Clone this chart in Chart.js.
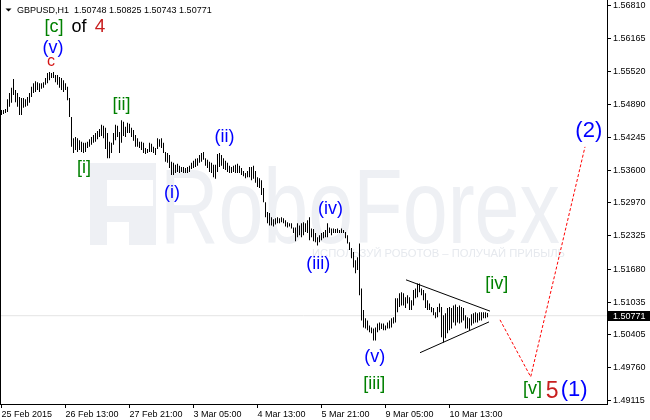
<!DOCTYPE html>
<html>
<head>
<meta charset="utf-8">
<script src="https://cdn.jsdelivr.net/npm/chart.js@4.4.1/dist/chart.umd.min.js"></script>
<style>
  html, body { margin: 0; padding: 0; background: #fff; }
</style>
</head>
<body>
<canvas id="myChart" width="650" height="420"></canvas>
<script>
const symbol = 'GBPUSD,H1';
const timeLabels = ['25 Feb 2015', '26 Feb 13:00', '27 Feb 21:00', '3 Mar 05:00', '4 Mar 13:00', '5 Mar 21:00', '9 Mar 05:00', '10 Mar 13:00'];
const timeTickBars = [0, 32, 64, 96, 128, 160, 192, 224];
const priceTicks = [1.49115, 1.49760, 1.50405, 1.51035, 1.51680, 1.52325, 1.52970, 1.53600, 1.54245, 1.54890, 1.55520, 1.56165, 1.56810];

// H1 bars, high / low
const barHigh = [
  1.5478, 1.5478, 1.5480, 1.5499, 1.5511, 1.5521, 1.5538, 1.5517, 1.5511, 1.5503,
  1.5501, 1.5501, 1.5499, 1.5503, 1.5511, 1.5523, 1.5530, 1.5534, 1.5532, 1.5530,
  1.5530, 1.5532, 1.5540, 1.5550, 1.5552, 1.5550, 1.5552, 1.5546, 1.5546, 1.5542,
  1.5540, 1.5536, 1.5530, 1.5523, 1.5501, 1.5464, 1.5423, 1.5425, 1.5423, 1.5419,
  1.5416, 1.5414, 1.5414, 1.5416, 1.5421, 1.5425, 1.5429, 1.5433, 1.5437, 1.5441,
  1.5449, 1.5447, 1.5443, 1.5433, 1.5416, 1.5414, 1.5433, 1.5449, 1.5447, 1.5435,
  1.5458, 1.5455, 1.5445, 1.5453, 1.5451, 1.5443, 1.5439, 1.5429, 1.5423, 1.5416,
  1.5416, 1.5414, 1.5404, 1.5402, 1.5414, 1.5412, 1.5406, 1.5404, 1.5423, 1.5421,
  1.5423, 1.5414, 1.5396, 1.5394, 1.5390, 1.5377, 1.5375, 1.5371, 1.5373, 1.5369,
  1.5367, 1.5367, 1.5365, 1.5367, 1.5369, 1.5375, 1.5379, 1.5383, 1.5384, 1.5390,
  1.5394, 1.5396, 1.5384, 1.5381, 1.5377, 1.5375, 1.5371, 1.5371, 1.5392, 1.5394,
  1.5390, 1.5384, 1.5379, 1.5375, 1.5369, 1.5367, 1.5369, 1.5371, 1.5373, 1.5369,
  1.5365, 1.5359, 1.5355, 1.5359, 1.5367, 1.5367, 1.5369, 1.5359, 1.5347, 1.5345,
  1.5341, 1.5326, 1.5298, 1.5279, 1.5277, 1.5269, 1.5265, 1.5267, 1.5269, 1.5267,
  1.5269, 1.5267, 1.5263, 1.5259, 1.5257, 1.5257, 1.5249, 1.5249, 1.5257, 1.5253,
  1.5257, 1.5259, 1.5257, 1.5263, 1.5269, 1.5247, 1.5246, 1.5238, 1.5230, 1.5234,
  1.5238, 1.5240, 1.5244, 1.5257, 1.5249, 1.5247, 1.5247, 1.5246, 1.5247, 1.5244,
  1.5247, 1.5244, 1.5240, 1.5234, 1.5220, 1.5209, 1.5201, 1.5185, 1.5191, 1.5218,
  1.5130, 1.5088, 1.5072, 1.5068, 1.5058, 1.5054, 1.5052, 1.5054, 1.5062, 1.5064,
  1.5062, 1.5062, 1.5058, 1.5064, 1.5068, 1.5072, 1.5074, 1.5111, 1.5111, 1.5121,
  1.5123, 1.5121, 1.5113, 1.5117, 1.5113, 1.5107, 1.5127, 1.5130, 1.5140, 1.5140,
  1.5130, 1.5127, 1.5121, 1.5107, 1.5101, 1.5094, 1.5092, 1.5084, 1.5094, 1.5101,
  1.5094, 1.5078, 1.5082, 1.5092, 1.5094, 1.5092, 1.5097, 1.5099, 1.5094, 1.5097,
  1.5094, 1.5092, 1.5078, 1.5074, 1.5072, 1.5080, 1.5082, 1.5084, 1.5082, 1.5084,
  1.5084, 1.5084, 1.5084, 1.50825
];
const barLow = [
  1.5468, 1.5470, 1.5472, 1.5474, 1.5484, 1.5492, 1.5507, 1.5493, 1.5484, 1.5468,
  1.5468, 1.5482, 1.5484, 1.5486, 1.5492, 1.5503, 1.5511, 1.5513, 1.5517, 1.5513,
  1.5519, 1.5521, 1.5527, 1.5530, 1.5536, 1.5540, 1.5540, 1.5532, 1.5527, 1.5521,
  1.5517, 1.5513, 1.5517, 1.5497, 1.5464, 1.5406, 1.5394, 1.5400, 1.5396, 1.5400,
  1.5396, 1.5394, 1.5396, 1.5404, 1.5406, 1.5410, 1.5414, 1.5416, 1.5421, 1.5425,
  1.5427, 1.5423, 1.5402, 1.5384, 1.5384, 1.5394, 1.5410, 1.5419, 1.5425, 1.5394,
  1.5414, 1.5427, 1.5425, 1.5433, 1.5433, 1.5425, 1.5418, 1.5406, 1.5406, 1.5404,
  1.5400, 1.5394, 1.5392, 1.5394, 1.5396, 1.5396, 1.5394, 1.5390, 1.5402, 1.5406,
  1.5404, 1.5394, 1.5377, 1.5375, 1.5365, 1.5351, 1.5351, 1.5355, 1.5357, 1.5355,
  1.5357, 1.5355, 1.5355, 1.5355, 1.5357, 1.5363, 1.5365, 1.5367, 1.5369, 1.5375,
  1.5377, 1.5381, 1.5369, 1.5365, 1.5357, 1.5355, 1.5347, 1.5344, 1.5357, 1.5367,
  1.5369, 1.5363, 1.5361, 1.5357, 1.5355, 1.5355, 1.5357, 1.5355, 1.5355, 1.5355,
  1.5351, 1.5349, 1.5345, 1.5347, 1.5347, 1.5341, 1.5344, 1.5336, 1.5328, 1.5326,
  1.5312, 1.5298, 1.5269, 1.5257, 1.5253, 1.5253, 1.5251, 1.5255, 1.5257, 1.5257,
  1.5259, 1.5257, 1.5251, 1.5249, 1.5251, 1.5247, 1.5238, 1.5222, 1.5230, 1.5234,
  1.5230, 1.5234, 1.5240, 1.5238, 1.5224, 1.5230, 1.5222, 1.5220, 1.5214, 1.5220,
  1.5224, 1.5228, 1.5230, 1.5230, 1.5238, 1.5234, 1.5238, 1.5238, 1.5238, 1.5238,
  1.5238, 1.5238, 1.5228, 1.5218, 1.5205, 1.5189, 1.5171, 1.5160, 1.5166, 1.5117,
  1.5068, 1.5054, 1.5052, 1.5049, 1.5045, 1.5043, 1.5029, 1.5029, 1.5045, 1.5049,
  1.5051, 1.5049, 1.5049, 1.5052, 1.5052, 1.5054, 1.5062, 1.5064, 1.5084, 1.5094,
  1.5097, 1.5097, 1.5092, 1.5101, 1.5088, 1.5088, 1.5097, 1.5111, 1.5113, 1.5123,
  1.5117, 1.5107, 1.5092, 1.5088, 1.5088, 1.5084, 1.5078, 1.5072, 1.5074, 1.5084,
  1.5035, 1.5025, 1.5033, 1.5043, 1.5049, 1.5052, 1.5064, 1.5058, 1.5064, 1.5062,
  1.5064, 1.5068, 1.5052, 1.5052, 1.5049, 1.5058, 1.5062, 1.5064, 1.5064, 1.5068,
  1.5068, 1.5072, 1.5072, 1.50743
];
const lastOpen = 1.50748;
const lastClose = 1.50771;

// triangle and forecast path: [bar, price]
const triangleUpper = [[202.25, 1.5147], [244.25, 1.5086]];
const triangleLower = [[209.25, 1.5005], [243.75, 1.5065]];
const forecastPath = [[249.25, 1.5069], [264.6, 1.4958], [291.75, 1.5406]];

// wave marks: [text, bar, price, degree]
const waveLabels = [
  ['[c]', 26.25, 1.5630, 'minute'],
  ['of', 38.75, 1.5630, 'text'],
  ['4', 49.25, 1.5630, 'primary'],
  ['(v)', 25.75, 1.5589, 'minor'],
  ['c', 24.75, 1.5563, 'primarySmall'],
  ['[i]', 41.25, 1.5355, 'minute'],
  ['[ii]', 60, 1.5477, 'minute'],
  ['(i)', 85.25, 1.5307, 'minor'],
  ['(ii)', 111.5, 1.5416, 'minor'],
  ['(iii)', 158.4, 1.5168, 'minor'],
  ['(iv)', 164.5, 1.5276, 'minor'],
  ['(v)', 186.6, 1.4987, 'minor'],
  ['[iii]', 186.35, 1.4935, 'minute'],
  ['[iv]', 247.6, 1.5130, 'minute'],
  ['[v]', 265.5, 1.4924, 'minute'],
  ['5', 275.35, 1.4916, 'primaryBig'],
  ['(1)', 286.35, 1.4921, 'minorBig'],
  ['(2)', 293.65, 1.5425, 'minorBig']
];

const labelStyle = {
  minute: { color: '#008000', size: 18 },
  minor: { color: '#0000ff', size: 18 },
  minorBig: { color: '#0000ff', size: 22 },
  primary: { color: '#c81e1e', size: 19 },
  primaryBig: { color: '#c81e1e', size: 23 },
  primarySmall: { color: '#d41414', size: 16 },
  text: { color: '#000000', size: 18 }
};

const FONT = '"Liberation Sans", Arial, sans-serif';
const X_MIN = -0.75, X_MAX = 302.75;

const toPoints = arr => arr.map(p => ({ x: p[0], y: p[1] }));

const watermark = {
  id: 'watermark',
  beforeDatasetsDraw(chart) {
    const ctx = chart.ctx;
    ctx.save();
    ctx.fillStyle = '#eef0f4';
    ctx.fillRect(90, 163, 66, 82);
    ctx.fillStyle = '#ffffff';
    ctx.fillRect(107, 180, 46, 26);
    ctx.fillRect(107, 222, 22, 23);
    ctx.fillStyle = '#eef0f4';
    ctx.font = '106px ' + FONT;
    ctx.textBaseline = 'alphabetic';
    let w = ctx.measureText('RoboForex').width;
    ctx.translate(160, 243);
    ctx.scale(400 / w, 1);
    ctx.fillText('RoboForex', 0, 0);
    ctx.restore();
    ctx.save();
    ctx.fillStyle = '#e6e9ee';
    ctx.font = '11px ' + FONT;
    const sub = 'ИСПОЛЬЗУЙ РОБОТОВ – ПОЛУЧАЙ ПРИБЫЛЬ';
    w = ctx.measureText(sub).width;
    ctx.translate(312, 257);
    ctx.scale(253 / w, 1);
    ctx.fillText(sub, 0, 0);
    ctx.restore();
  }
};

const marks = {
  id: 'marks',
  afterDatasetsDraw(chart) {
    const ctx = chart.ctx, xs = chart.scales.x, ys = chart.scales.y;
    ctx.save();
    ctx.textAlign = 'center';
    ctx.textBaseline = 'alphabetic';
    waveLabels.forEach(l => {
      const st = labelStyle[l[3]];
      ctx.font = st.size + 'px ' + FONT;
      ctx.fillStyle = st.color;
      ctx.fillText(l[0], xs.getPixelForValue(l[1]), ys.getPixelForValue(l[2]));
    });
    ctx.restore();
  },
  afterDraw(chart) {
    const ctx = chart.ctx, area = chart.chartArea, ys = chart.scales.y;
    ctx.save();
    // left frame line
    ctx.strokeStyle = '#000';
    ctx.lineWidth = 1;
    ctx.beginPath();
    ctx.moveTo(0.5, area.top);
    ctx.lineTo(0.5, area.bottom);
    ctx.stroke();
    // header
    ctx.fillStyle = '#000';
    ctx.beginPath();
    ctx.moveTo(5.5, 8.5);
    ctx.lineTo(11.5, 8.5);
    ctx.lineTo(8.5, 11.5);
    ctx.closePath();
    ctx.fill();
    ctx.font = '9px ' + FONT;
    ctx.textBaseline = 'alphabetic';
    const n = barHigh.length - 1;
    const head = symbol + '  ' + [lastOpen, barHigh[n], barLow[n], lastClose].map(v => v.toFixed(5)).join(' ');
    ctx.fillText(head, 17, 12.5);
    // last price box
    const py = Math.round(ys.getPixelForValue(lastClose));
    ctx.fillRect(area.right + 1, py - 5, 650 - area.right - 1, 10);
    ctx.fillStyle = '#fff';
    ctx.textBaseline = 'middle';
    ctx.fillText(lastClose.toFixed(5), 613, py + 0.5);
    ctx.restore();
  }
};

const chart = document.getElementById('myChart');

let priceChart = new Chart(chart, {
  type: 'bar',
  data: {
    datasets: [
      {
        type: 'line',
        data: [{ x: X_MIN, y: lastClose }, { x: X_MAX, y: lastClose }],
        borderColor: '#e4e4e4',
        borderWidth: 1,
        pointRadius: 0,
        order: 5
      },
      {
        type: 'bar',
        data: barHigh.map((h, i) => ({ x: i, y: [barLow[i], h] })),
        backgroundColor: '#000',
        borderWidth: 0,
        barThickness: 1,
        inflateAmount: 0,
        grouped: false,
        order: 4
      },
      {
        type: 'line',
        data: toPoints(triangleUpper),
        borderColor: '#000',
        borderWidth: 1,
        pointRadius: 0,
        order: 3
      },
      {
        type: 'line',
        data: toPoints(triangleLower),
        borderColor: '#000',
        borderWidth: 1,
        pointRadius: 0,
        order: 3
      },
      {
        type: 'line',
        data: toPoints(forecastPath),
        borderColor: '#ff0000',
        borderWidth: 1,
        borderDash: [3, 2],
        pointRadius: 0,
        order: 2
      }
    ]
  },
  options: {
    responsive: false,
    devicePixelRatio: 1,
    animation: false,
    layout: { padding: 0 },
    plugins: { legend: { display: false }, tooltip: { enabled: false } },
    scales: {
      x: {
        type: 'linear',
        min: X_MIN,
        max: X_MAX,
        offset: false,
        bounds: 'data',
        afterBuildTicks: s => { s.ticks = timeTickBars.map(v => ({ value: v })); },
        afterFit: s => { s.height = 16; s.paddingLeft = 0; s.paddingRight = 0; },
        grid: { offset: false, drawOnChartArea: false, drawTicks: true, tickLength: 4, color: '#000' },
        border: { display: true, color: '#000' },
        ticks: {
          align: 'start', maxRotation: 0, autoSkip: false, padding: 1,
          color: '#000', font: { family: FONT, size: 9 },
          callback: (v, i) => timeLabels[i]
        }
      },
      y: {
        position: 'right',
        min: 1.49051,
        max: 1.56921,
        bounds: 'data',
        afterBuildTicks: s => { s.ticks = priceTicks.map(v => ({ value: v })); },
        afterFit: s => { s.width = 43; s.paddingTop = 0; s.paddingBottom = 0; },
        grid: { drawOnChartArea: false, drawTicks: true, tickLength: 4, color: '#000' },
        border: { display: true, color: '#000' },
        ticks: {
          autoSkip: false, padding: 2, color: '#000',
          font: { family: FONT, size: 9 },
          callback: v => v.toFixed(5)
        }
      }
    }
  },
  plugins: [watermark, marks]
});
</script>
</body>
</html>
